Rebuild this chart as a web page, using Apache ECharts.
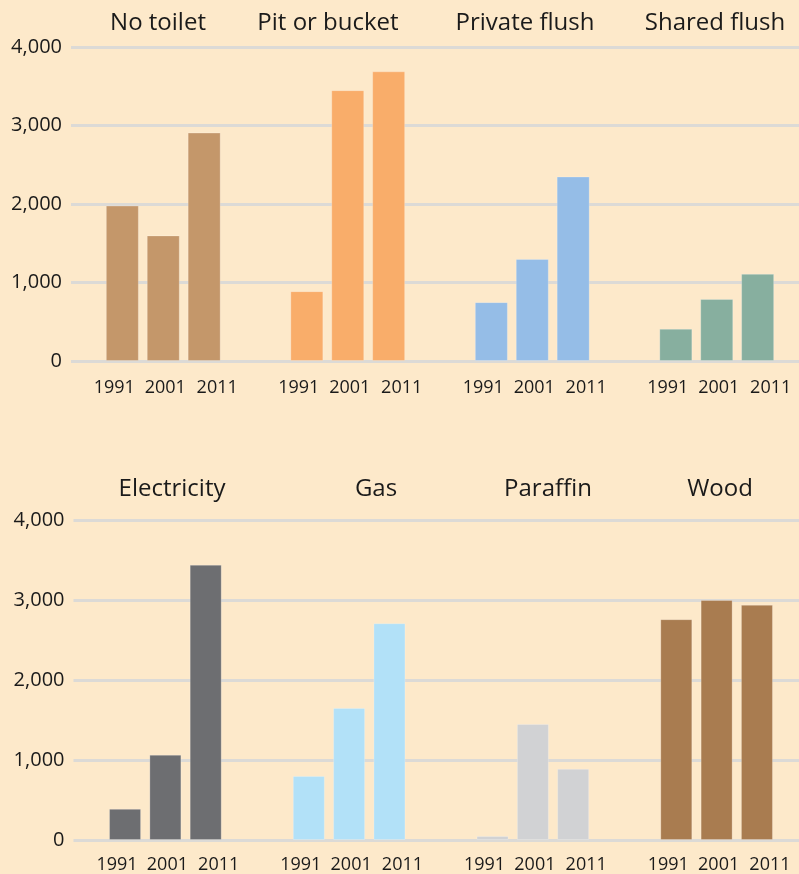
<!DOCTYPE html>
<html>
<head>
<meta charset="utf-8">
<script src="https://cdn.jsdelivr.net/npm/echarts@6/dist/echarts.min.js"></script>
<style>
  html, body { margin: 0; padding: 0; background: #fde9ca; }
  #chart { width: 799px; height: 874px; }
</style>
</head>
<body>
<div id="chart"></div>
<script>
// years shown under every bar
const years = ['1991', '2001', '2011'];

// top panel: toilet type
const toiletTypes = ['No toilet', 'Pit or bucket', 'Private flush', 'Shared flush'];
const noToilet = [1980, 1600, 2910];
const pitOrBucket = [890, 3450, 3690];
const privateFlush = [750, 1300, 2350];
const sharedFlush = [410, 790, 1110];
const toiletColors = ['#c4976a', '#f9ad6a', '#95bde7', '#87af9f'];

// bottom panel: energy used
const energyTypes = ['Electricity', 'Gas', 'Paraffin', 'Wood'];
const electricity = [390, 1065, 3440];
const gas = [800, 1650, 2710];
const paraffin = [50, 1450, 890];
const wood = [2760, 3000, 2940];
const energyColors = ['#6d6e71', '#b2e1f8', '#d1d2d4', '#a97c50'];

const yTicks = [0, 1000, 2000, 3000, 4000];

const FONT = '"Open Sans", "Noto Sans", sans-serif';
const TXT = '#1a1a1a';

// title centre positions (layout only)
const toiletTitleX = [158, 328, 525, 715];
const energyTitleX = [172, 376, 548, 720];
const labelOffsets = [-8, 2, 13];

function buildSeries(groups, colors, gridIdx, barWidth, barGap, labelDist) {
    // one series per year, one bar per group
    return years.map((yr, k) => ({
        name: yr,
        type: 'bar',
        xAxisIndex: gridIdx,
        yAxisIndex: gridIdx,
        barWidth: barWidth,
        barGap: barGap,
        clip: false,
        data: groups.map((vals, i) => ({
            value: vals[k],
            itemStyle: {
                color: colors[i],
                borderColor: 'rgba(255,255,255,0.22)',
                borderWidth: 1
            }
        })),
        label: {
            show: true,
            position: 'bottom',
            distance: labelDist,
            offset: [labelOffsets[k], 0],
            formatter: yr,
            fontFamily: FONT,
            fontSize: 18,
            color: TXT
        }
    }));
}

function buildTitles(names, xs, top) {
    return names.map((n, i) => ({
        text: n,
        left: xs[i],
        top: top,
        textAlign: 'center',
        padding: 0,
        textStyle: { fontFamily: FONT, fontSize: 24, fontWeight: 'normal', color: TXT, lineHeight: 24 }
    }));
}

function yAxis(gridIdx) {
    return {
        type: 'value',
        gridIndex: gridIdx,
        min: yTicks[0],
        max: yTicks[yTicks.length - 1],
        interval: yTicks[1] - yTicks[0],
        axisLine: { show: false },
        axisTick: { show: false },
        axisLabel: {
            fontFamily: FONT, fontSize: 20, color: TXT, margin: 9,
            padding: [0, 0, 6, 0]
        },
        splitLine: { lineStyle: { color: '#dcdad6', width: 3 } }
    };
}

function xAxis(gridIdx, cats) {
    return {
        type: 'category',
        gridIndex: gridIdx,
        data: cats,
        axisLine: { show: false },
        axisTick: { show: false },
        axisLabel: { show: false }
    };
}

const chart = echarts.init(document.getElementById('chart'), null, { renderer: 'canvas' });

const option = {
    backgroundColor: '#fde9ca',
    animation: false,
    title: buildTitles(toiletTypes, toiletTitleX, 11).concat(buildTitles(energyTypes, energyTitleX, 477)),
    grid: [
        { left: 71, width: 738, top: 47, height: 314, outerBoundsMode: 'none', containLabel: false },
        { left: 73.5, width: 735, top: 520, height: 320, outerBoundsMode: 'none', containLabel: false }
    ],
    xAxis: [xAxis(0, toiletTypes), xAxis(1, energyTypes)],
    yAxis: [yAxis(0), yAxis(1)],
    series: buildSeries([noToilet, pitOrBucket, privateFlush, sharedFlush], toiletColors, 0, 33, '24%', 18)
        .concat(buildSeries([electricity, gas, paraffin, wood], energyColors, 1, 32, '26%', 16))
};

chart.setOption(option);
</script>
</body>
</html>
